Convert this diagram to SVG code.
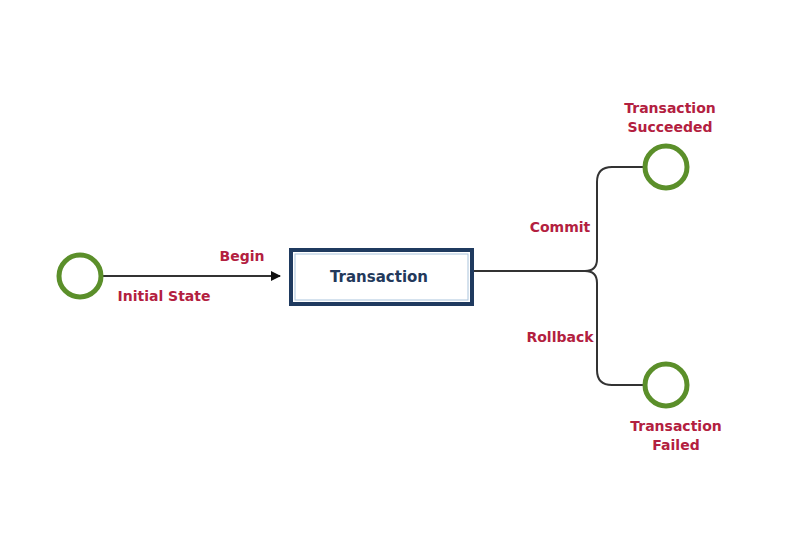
<svg xmlns="http://www.w3.org/2000/svg" width="800" height="560" viewBox="0 0 800 560">
<style>
.state{fill:#ffffff;stroke:#5b8f2a;stroke-width:5}
.lbl{font-family:"DejaVu Sans",Verdana,sans-serif;font-weight:bold;font-size:14px;fill:#b3203f;text-anchor:middle}
.conn{fill:none;stroke:#333333;stroke-width:2}
</style>
<defs>
<marker id="arr" markerWidth="10" markerHeight="10" refX="9" refY="5" orient="auto" markerUnits="userSpaceOnUse">
<path d="M0,0 L10,5 L0,10 Z" fill="#111111"/>
</marker>
</defs>
<rect width="800" height="560" fill="#ffffff"/>
<g id="connectors">
<line class="conn" x1="103" y1="276" x2="280" y2="276" marker-end="url(#arr)"/>
<path class="conn" d="M472,271 L585,271 Q597,271 597,259 L597,182 Q597,167 612,167 L644,167"/>
<path class="conn" d="M585,271 Q597,271 597,283 L597,370 Q597,385 612,385 L644,385"/>
<text class="lbl" x="242" y="261">Begin</text>
<text class="lbl" x="560" y="232">Commit</text>
<text class="lbl" x="560" y="342">Rollback</text>
</g>
<g id="initial">
<circle class="state" cx="80" cy="276" r="21"/>
<text class="lbl" x="164" y="301">Initial State</text>
</g>
<g id="transaction">
<rect x="291" y="250" width="181" height="54" fill="#ffffff" stroke="#1f3a5f" stroke-width="4"/>
<rect x="295" y="254" width="173" height="46" fill="none" stroke="#aac4dc" stroke-width="1"/>
<text x="379" y="282" font-family="'DejaVu Sans',Verdana,sans-serif" font-weight="bold" font-size="15" fill="#23395b" text-anchor="middle">Transaction</text>
</g>
<g id="succeeded">
<circle class="state" cx="666" cy="167" r="21"/>
<text class="lbl" x="670" y="113">Transaction</text>
<text class="lbl" x="670" y="132">Succeeded</text>
</g>
<g id="failed">
<circle class="state" cx="666" cy="385" r="21"/>
<text class="lbl" x="676" y="431">Transaction</text>
<text class="lbl" x="676" y="450">Failed</text>
</g>
</svg>
